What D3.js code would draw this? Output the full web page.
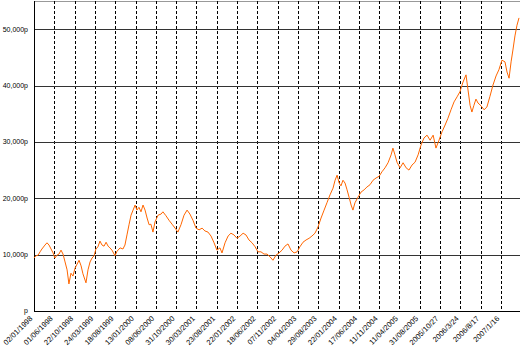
<!DOCTYPE html>
<html>
<head>
<meta charset="utf-8">
<script src="https://cdn.jsdelivr.net/npm/d3@7"></script>
<style>
  body { margin: 0; background: #fff; }
  text { font-family: "Liberation Sans", Arial, sans-serif; fill: #000; }
</style>
</head>
<body>
<script>
// trading-day index of each sampled point, and the price there
var dayIndex = [0,10,20,30,39,54,64,74,84,94,103,113,123,133,143,153,163,172,182,192,
  202,212,222,232,241,256,266,276,286,296,305,315,325,335,345,355,365,374,384,399,
  409,424,438,448,458,468,478,488,498,507,517,527,537,547,557,567,576,586,596,611,
  626,635,650,665,680,695,709,724,739,754,768,783,798,813,828,842,857,872,887,901,
  916,926,941,956,970,985,1000,1015,1030,1044,1059,1074,1089,1103,1118,1133,1148,1163,1177,1192,
  1207,1222,1236,1251,1266,1281,1296,1310,1325,1340,1355,1369,1384,1399,1414,1429,1443,1458,1473,1483,
  1493,1503,1512,1522,1532,1542,1552,1562,1571,1581,1596,1611,1626,1640,1655,1670,1685,1700,1714,1729,
  1744,1759,1768,1778,1788,1803,1818,1833,1847,1862,1877,1892,1906,1921,1936,1951,1966,1980,1995,2010,
  2025,2039,2054,2069,2084,2098,2113,2128,2138,2148,2157,2167,2177,2187,2202,2217,2231,2246,2261,2276,
  2290,2305,2320,2330,2340,2350,2359,2369,2379,2389];

var prices = [9400,9800,9900,10500,11000,11700,12100,11700,11000,10300,9400,9900,10100,10800,10100,8700,7300,4800,6700,6200,
  7600,8300,9000,8000,6600,5000,7300,8700,9400,9800,11000,11400,12400,11700,11500,12200,11500,11200,10800,9800,
  10600,11200,11000,11700,13500,15300,17000,17900,18800,17900,18400,17600,18800,17900,16500,15300,15400,14000,15800,17000,
  17200,17600,16900,16100,15400,14700,14000,15300,17000,17900,17200,16100,14700,14400,14700,14200,14000,13300,12100,10800,
  11200,10300,12100,13300,13800,13500,12900,13300,13800,13500,12600,12100,11400,10500,10500,10100,10100,9600,9000,9900,
  10300,10800,11500,11900,10800,10300,10500,11400,12200,12600,12900,13300,13800,14900,16500,17900,19200,20600,21800,23200,
  24100,22700,22200,23200,22700,21500,20200,18800,17900,19200,20200,21100,21500,22000,22400,23200,23600,23900,24700,25400,
  26300,27700,28900,27700,26400,25400,26300,25400,25000,25900,26400,27700,29400,30700,31200,30300,31200,28900,30300,31800,
  33000,34200,35700,37100,38000,38900,40600,41900,39200,36500,35300,36500,37600,36900,36400,35700,36200,38100,40100,41700,
  42800,44500,44200,42400,41300,44200,46300,48800,50700,52000];

// one date label every 100 trading days
var dateLabels = ["02/01/1998","01/06/1998","22/10/1998","24/03/1999","18/08/1999","13/01/2000",
  "08/06/2000","31/10/2000","30/03/2001","23/08/2001","22/01/2002","18/06/2002","07/11/2002",
  "04/04/2003","29/08/2003","22/01/2004","17/06/2004","11/11/2004","11/04/2005","31/08/2005",
  "2005/10/27","2006/3/24","2006/8/17","2007/1/16"];

var yTicks = [0,10000,20000,30000,40000,50000];

var width = 520, height = 348;
var plotLeft = 34, plotRight = 519, plotTop = 1, plotBottom = 311;

var data = dayIndex.map(function(d, i) { return {day: d, price: prices[i]}; });

var x = d3.scaleLinear().domain([0, 2389]).range([plotLeft, plotRight]);
var y = d3.scaleLinear().domain([0, 55000]).range([plotBottom, plotTop]);

var svg = d3.select("body").append("svg")
    .attr("width", width)
    .attr("height", height);

// top border
svg.append("line")
    .attr("x1", plotLeft).attr("x2", width)
    .attr("y1", plotTop + 0.5).attr("y2", plotTop + 0.5)
    .attr("stroke", "#999");

// vertical dashed grid
var xTickVals = dateLabels.map(function(d, i) { return i * 100; });
svg.selectAll(".vgrid")
    .data(xTickVals.slice(1))
    .enter().append("line")
    .attr("class", "vgrid")
    .attr("x1", function(d) { return Math.round(x(d)) + 0.5; })
    .attr("x2", function(d) { return Math.round(x(d)) + 0.5; })
    .attr("y1", plotTop)
    .attr("y2", plotBottom)
    .attr("stroke", "#000")
    .attr("stroke-dasharray", "3,2");

// horizontal grid
svg.selectAll(".hgrid")
    .data(yTicks)
    .enter().append("line")
    .attr("class", "hgrid")
    .attr("x1", plotLeft).attr("x2", width)
    .attr("y1", function(d) { return Math.round(y(d)) + 0.5; })
    .attr("y2", function(d) { return Math.round(y(d)) + 0.5; })
    .attr("stroke", function(d) { return d === 0 ? "#000" : "#333"; });

// left axis line
svg.append("line")
    .attr("x1", plotLeft + 0.5).attr("x2", plotLeft + 0.5)
    .attr("y1", plotTop).attr("y2", plotBottom + 0.5)
    .attr("stroke", "#000");

// y labels
svg.selectAll(".ylab")
    .data(yTicks)
    .enter().append("text")
    .attr("class", "ylab")
    .attr("x", 28)
    .attr("y", function(d) { return y(d); })
    .attr("dy", "0.35em")
    .attr("text-anchor", "end")
    .style("font-size", "7px")
    .text(function(d) { return d === 0 ? "p" : d3.format(",")(d) + "p"; });

// x labels, rotated
svg.selectAll(".xlab")
    .data(dateLabels)
    .enter().append("text")
    .attr("class", "xlab")
    .attr("text-anchor", "end")
    .style("font-size", "7.5px")
    .attr("transform", function(d, i) {
        return "translate(" + (x(i * 100) - 1) + "," + (plotBottom + 8) + ") rotate(-45)";
    })
    .text(function(d) { return d; });

// price line
var line = d3.line()
    .x(function(d) { return x(d.day); })
    .y(function(d) { return y(d.price); });

svg.append("path")
    .datum(data)
    .attr("fill", "none")
    .attr("stroke", "#ff6600")
    .attr("stroke-width", 1)
    .attr("d", line);
</script>
</body>
</html>
